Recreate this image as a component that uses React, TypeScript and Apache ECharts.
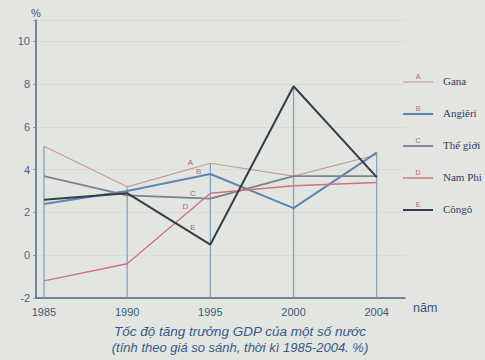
import React, { useEffect, useRef } from "react";
import * as echarts from "echarts";

const years = ["1985", "1990", "1995", "2000", "2004"];
const seriesNames = ["Gana", "Angiêri", "Thế giới", "Nam Phi", "Côngô"];
const seriesLetters = ["A", "B", "C", "D", "E"];
const gana = [5.1, 3.2, 4.3, 3.7, 4.7];
const angieri = [2.4, 3.0, 3.8, 2.2, 4.8];
const theGioi = [3.7, 2.8, 2.65, 3.7, 3.7];
const namPhi = [-1.2, -0.4, 2.9, 3.25, 3.4];
const congo = [2.6, 2.9, 0.5, 7.9, 3.65];
// label anchor for letters on lines: [x index position, value]
const letterAnchors = [
  [1.76, 4.35],
  [1.86, 3.9],
  [1.79, 2.9],
  [1.7, 2.3],
  [1.79, 1.3],
];
const yTicks = [-2, 0, 2, 4, 6, 8, 10];

const colors = ["#c49c99", "#5b87b2", "#7c818b", "#d0727f", "#383c48"];
const letterColors = ["#c0606a", "#c06a80", "#a06a80", "#d0606e", "#b0606e"];
const widths = [1.2, 2, 1.8, 1.4, 2];
const allSeries = [gana, angieri, theGioi, namPhi, congo];

export default function App() {
  const ref = useRef<HTMLDivElement>(null);
  useEffect(() => {
    if (!ref.current) return;
    document.body.style.margin = "0";
    const chart = echarts.init(ref.current, undefined, { renderer: "svg" });
    const dropData = years.map((_, i) => [i, Math.max(...allSeries.map((s) => s[i]))]);
    const lineSeries = allSeries.map((s, k) => ({
      type: "line",
      name: seriesNames[k],
      data: s.map((v, i) => [i, v]),
      symbol: "none",
      lineStyle: { color: colors[k], width: widths[k] },
      itemStyle: { color: colors[k] },
      z: 3,
      markPoint: {
        symbol: "rect",
        symbolSize: 1,
        itemStyle: { color: "rgba(0,0,0,0)" },
        label: {
          show: true,
          position: "inside",
          formatter: seriesLetters[k],
          color: letterColors[k],
          fontSize: 8,
          fontFamily: "Liberation Sans",
        },
        data: [{ coord: letterAnchors[k] }],
      },
    }));
    const legendItems: any[] = [];
    seriesNames.forEach((n, k) => {
      const y = 82 + k * 32;
      legendItems.push({
        type: "line",
        shape: { x1: 403, y1: y, x2: 433, y2: y },
        style: { stroke: colors[k], lineWidth: widths[k] },
      });
      legendItems.push({
        type: "text",
        x: 418,
        y: y - 2,
        style: {
          text: seriesLetters[k],
          fill: letterColors[k],
          fontSize: 7,
          fontFamily: "Liberation Sans",
          align: "center",
          verticalAlign: "bottom",
        },
      });
      legendItems.push({
        type: "text",
        x: 443,
        y: y - 1,
        style: {
          text: n,
          fill: "#2c3c62",
          fontSize: 11,
          fontFamily: "Liberation Serif",
          align: "left",
          verticalAlign: "middle",
        },
      });
    });
    chart.setOption({
      animation: false,
      backgroundColor: "#e3e5e1",
      title: {
        text: "Tốc độ tăng trưởng GDP của một số nước",
        subtext: "(tính theo giá so sánh, thời kì 1985-2004. %)",
        left: 240,
        top: 324,
        textAlign: "center",
        itemGap: 3,
        padding: 0,
        textStyle: {
          fontSize: 13.5,
          fontStyle: "italic",
          fontWeight: "normal",
          color: "#35598a",
          fontFamily: "Liberation Sans",
        },
        subtextStyle: {
          fontSize: 13,
          fontStyle: "italic",
          color: "#35598a",
          fontFamily: "Liberation Sans",
        },
      },
      grid: { left: 36, right: 80, top: 20, bottom: 62 },
      xAxis: {
        type: "value",
        min: -0.096,
        max: 4.34,
        name: "năm",
        nameLocation: "end",
        nameGap: 8,
        nameTextStyle: {
          color: "#3a5070",
          fontSize: 12.5,
          fontFamily: "Liberation Sans",
          verticalAlign: "top",
          padding: [3, 0, 0, 0],
        },
        axisLine: { show: true, onZero: false, lineStyle: { color: "#4e6684", width: 1.5 } },
        axisTick: { show: false },
        splitLine: { show: false },
        axisLabel: {
          margin: 8,
          fontSize: 11,
          color: "#3f5a7c",
          fontFamily: "Liberation Sans",
          formatter: (v: number) => (Number.isInteger(v) && years[v] ? years[v] : ""),
          showMinLabel: true,
          showMaxLabel: true,
        },
      },
      yAxis: {
        type: "value",
        min: -2,
        max: 11,
        interval: 2,
        name: "%",
        nameLocation: "end",
        nameGap: 2,
        nameTextStyle: { color: "#3f5a7c", fontSize: 11, fontFamily: "Liberation Sans", align: "center" },
        axisLine: { show: true, onZero: false, lineStyle: { color: "#4e6684", width: 1.5 } },
        axisTick: { show: true, length: 3, lineStyle: { color: "#8a9ab0" } },
        splitLine: { show: true, lineStyle: { color: "#d9dbd8", width: 1 } },
        axisLabel: {
          margin: 6,
          fontSize: 11,
          color: "#4a6586",
          fontFamily: "Liberation Sans",
          formatter: (v: number) => (yTicks.includes(v) ? String(v) : ""),
        },
      },
      graphic: legendItems,
      series: [
        {
          type: "custom",
          name: "drop",
          data: dropData,
          z: 2,
          renderItem: (params: any, api: any) => {
            const x = api.value(0);
            const top = api.value(1);
            const p1 = api.coord([x, top]);
            const p0 = api.coord([x, -2]);
            return {
              type: "line",
              shape: { x1: p0[0], y1: p0[1], x2: p1[0], y2: p1[1] },
              style: { stroke: "#7d9dbd", lineWidth: 1.2 },
            };
          },
        },
        ...lineSeries,
      ],
    });
    return () => chart.dispose();
  }, []);
  return <div ref={ref} style={{ width: 485, height: 360 }} />;
}
